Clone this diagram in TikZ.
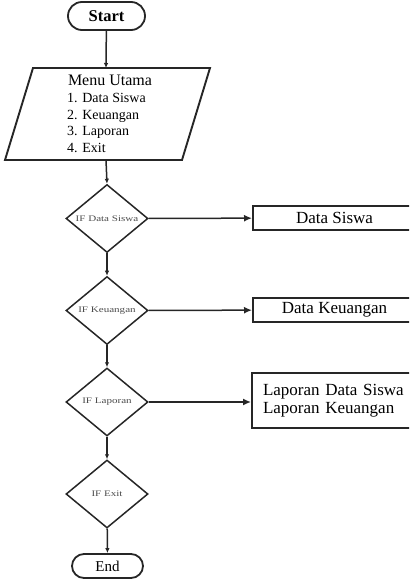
\documentclass[tikz,border=0pt]{standalone}
\usepackage{fontspec}
\usepackage{graphicx}
\setmainfont{Liberation Serif}
\usetikzlibrary{shapes.geometric,arrows.meta}
\tikzset{
  line/.style={line width=1.5pt, draw=black!85},
  flow/.style={line, -{Latex[length=5pt,width=4.5pt]}},
  branch/.style={line, -{Latex[length=8pt,width=7pt]}},
  term/.style={line, line width=1.8pt, minimum height=#1, rounded corners=#1/2, inner sep=0pt},
  cond/.style={line, diamond, aspect=1.22, minimum width=82pt, minimum height=68pt,
    inner sep=0pt, text=black!70, font=\fontsize{8.5}{9}\selectfont},
  procbox/.style={line, line width=2.1pt, rectangle, minimum width=163pt, inner sep=0pt, anchor=west},
}
\newcommand{\condtext}[1]{\scalebox{1.3}[1]{#1}}
\begin{document}
\begin{tikzpicture}[x=1pt,y=-1pt]
\useasboundingbox (0,0) rectangle (409,580);
\clip (0,0) rectangle (409,580);
% terminals
\node[term=28pt, minimum width=77pt, font=\fontsize{16.5}{18}\selectfont\bfseries] (start) at (106.5,16) {Start};
\node[term=24pt, minimum width=71pt, font=\fontsize{15}{17}\selectfont] (end) at (107.5,566) {End};
% menu parallelogram
\coordinate (mtl) at (33,68);
\coordinate (mtr) at (210,68);
\coordinate (mbr) at (182,160);
\coordinate (mbl) at (5,160);
\coordinate (menutop) at (106,68);
\coordinate (menubot) at (106,160);
\draw[line, line width=1.9pt] (mtl) -- (mtr) -- (mbr) -- (mbl) -- cycle;
\node[font=\fontsize{16}{18}\selectfont] (menutitle) at (110,80) {Menu Utama};
\node[anchor=north west, align=left, inner sep=0pt, font=\fontsize{14}{16.6}\selectfont] (menulist) at (67,93)
  {1. Data Siswa\\2. Keuangan\\3. Laporan\\4. Exit};
% decisions
\node[cond] (d1) at (107,218.5) {\condtext{IF Data Siswa}};
\node[cond] (d2) at (107,310.5) {\condtext{IF Keuangan}};
\node[cond] (d3) at (107,402) {\condtext{IF Laporan}};
\node[cond] (d4) at (107,494) {\condtext{IF Exit}};
% processes
\node[procbox, minimum height=24pt, font=\fontsize{17}{19}\selectfont] (p1) at (252,218) {Data Siswa};
\node[procbox, minimum height=24pt, font=\fontsize{17}{19}\selectfont] (p2) at (252,310) {Data Keuangan};
\node[procbox, minimum height=55pt, text width=152pt, align=left, inner xsep=11pt,
  font=\fontsize{17}{17.5}\selectfont] (p3) at (251,400.5) {Laporan Data Siswa\\Laporan Keuangan};
% connectors
\draw[flow] (start) -- (menutop);
\draw[flow] (menubot) -- (d1.north);
\draw[flow] (d1) -- (d2);
\draw[flow] (d2) -- (d3);
\draw[flow] (d3) -- (d4);
\draw[flow] (d4) -- (end);
\draw[branch] (d1) -- (p1);
\draw[branch] (d2) -- (p2);
\draw[branch] (d3.east) -- (p3.west |- d3.east);
\end{tikzpicture}
\end{document}
